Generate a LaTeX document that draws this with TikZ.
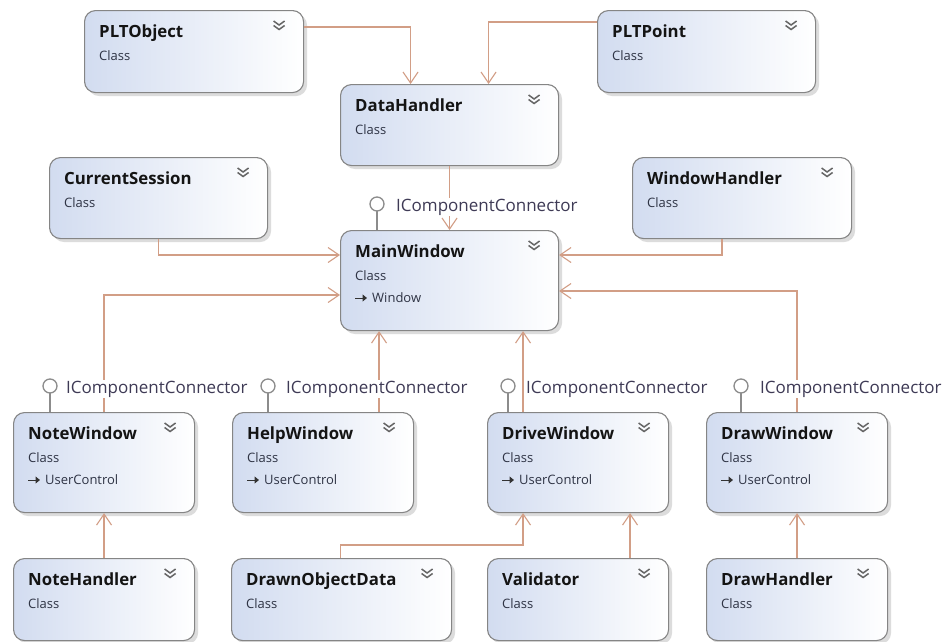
\documentclass[tikz,border=0pt]{standalone}
\usepackage{fontspec}
\setmainfont{Open Sans}
\usetikzlibrary{arrows.meta,shadows,calc}

\definecolor{edgec}{HTML}{D29E86}
\definecolor{boxline}{HTML}{858585}
\definecolor{boxleft}{HTML}{D2DCF0}
\definecolor{lolli}{HTML}{8C8C8C}
\definecolor{ifacetext}{HTML}{3E3A55}
\definecolor{subtext}{HTML}{2E3344}

\tikzset{
  clsbox/.style={draw=boxline, line width=1.1pt, rounded corners=11pt,
    left color=boxleft, right color=white,
    drop shadow={shadow xshift=3.5pt, shadow yshift=-3.5pt, opacity=.3, fill=black!45},
    inner sep=0pt},
  ttl/.style={font=\fontsize{16.8}{18}\selectfont\bfseries, text=black!92, inner sep=0pt},
  sub/.style={font=\fontsize{13}{15}\selectfont, text=subtext, inner sep=0pt},
  chev/.style={draw=black!60, line width=1.5pt},
  conn/.style={draw=edgec, line width=1.4pt, -{Straight Barb[length=11pt,width=15pt,line width=1.1pt]}},
  lollistem/.style={draw=lolli, line width=1.4pt},
  lollihead/.style={draw=lolli, line width=1.3pt, fill=white},
  iface/.style={font=\fontsize{17}{19}\selectfont, text=ifacetext, fill=white, inner sep=1pt, anchor=west},
}

% class box: name, x, y, width, height, title
\newcommand\umlclass[6]{%
  \node[clsbox, minimum width=#4pt, minimum height=#5pt, anchor=north west] (#1) at (#2,#3) {};
  \node[ttl, anchor=base west] at ([xshift=15pt,yshift=-27pt]#1.north west) {#6};
  \node[sub, anchor=base west] at ([xshift=15pt,yshift=-50pt]#1.north west) {Class};
  \coordinate (#1-chev) at ($(#1.north east)+(-25,16)$);
  \draw[chev] ($(#1-chev)+(-5.5,-5)$) -- ($(#1-chev)+(0,-1)$) -- ($(#1-chev)+(5.5,-5)$);
  \draw[chev] ($(#1-chev)+(-5.5,-0.5)$) -- ($(#1-chev)+(0,3.5)$) -- ($(#1-chev)+(5.5,-0.5)$);
}
% base class line inside a class box
\newcommand\umlbase[2]{%
  \coordinate (#1-base) at ($(#1.north west)+(15,68)$);
  \draw[black!80, line width=1pt, -{Triangle[length=4.5pt,width=7pt]}] (#1-base) -- ++(12,0);
  \node[sub, anchor=base west] at ([xshift=17pt,yshift=-4.5pt]#1-base) {#2};
}

\begin{document}
\begin{tikzpicture}[x=1pt,y=-1pt]
\useasboundingbox[fill=white] (0,0) rectangle (948,641);

% ---- classes ----
\umlclass{pltobj}{84}{10}{219}{82}{PLTObject}
\umlclass{pltpt}{597}{10}{218}{82}{PLTPoint}
\umlclass{datah}{340}{84}{218}{81}{DataHandler}
\umlclass{curs}{49}{157}{218}{81}{CurrentSession}
\umlclass{winh}{632}{157}{219}{81}{WindowHandler}
\umlclass{mainw}{340}{230}{218}{100}{MainWindow}
\umlbase{mainw}{Window}

\umlclass{notew}{13}{412}{181}{100}{NoteWindow}
\umlbase{notew}{UserControl}
\umlclass{helpw}{232}{412}{181}{100}{HelpWindow}
\umlbase{helpw}{UserControl}
\umlclass{drivew}{487}{412}{181}{100}{DriveWindow}
\umlbase{drivew}{UserControl}
\umlclass{draww}{706}{412}{181}{100}{DrawWindow}
\umlbase{draww}{UserControl}

\umlclass{noteh}{13}{558}{181}{82}{NoteHandler}
\umlclass{dodata}{231}{558}{220}{82}{DrawnObjectData}
\umlclass{valid}{487}{558}{181}{82}{Validator}
\umlclass{drawh}{706}{558}{181}{82}{DrawHandler}

% ---- associations ----
\draw[conn] ([yshift=-17pt]pltobj.north east) -| ([xshift=-39pt]datah.north);
\draw[conn] ([yshift=-12pt]pltpt.north west) -| ([xshift=39pt]datah.north);
\draw[conn] (datah.south) -- (mainw.north);
\draw[conn] (curs.south) |- ([yshift=-25pt]mainw.north west);
\draw[conn] ([xshift=-20pt]winh.south) |- ([yshift=-25pt]mainw.north east);
\draw[conn] (notew.north) |- ([yshift=-65pt]mainw.north west);
\draw[conn] (draww.north) |- ([yshift=-61pt]mainw.north east);
\draw[conn] ([xshift=56pt]helpw.north) -- ([xshift=56pt]helpw.north |- mainw.south);
\draw[conn] ([xshift=-55pt]drivew.north) -- ([xshift=-55pt]drivew.north |- mainw.south);
\draw[conn] (noteh.north) -- (notew.south);
\draw[conn] (drawh.north) -- (draww.south);
\draw[conn] ([xshift=52pt]valid.north) -- ([xshift=52pt]valid.north |- drivew.south);
\coordinate (dodknee) at ($(dodata.north west)+(109,-13)$);
\draw[conn] ([xshift=-1pt]dodata.north) |- (dodknee) -| ([xshift=-55pt]drivew.south);

% ---- provided interfaces ----
\newcommand\lollipop[3]{%
  \coordinate (#1-lol) at ($(#1.north west)+(#2,-26)$);
  \draw[lollistem] (#1-lol) ++(0,7) -- ($(#1.north west)+(#2,0)$);
  \draw[lollihead] (#1-lol) circle[radius=7pt];
  \node[iface] at ($(#1-lol)+(#3,3)$) {IComponentConnector};
}
\lollipop{mainw}{37}{18}
\lollipop{notew}{37}{15}
\lollipop{helpw}{36}{17}
\lollipop{drivew}{21}{17}
\lollipop{draww}{35}{18}

\end{tikzpicture}
\end{document}
